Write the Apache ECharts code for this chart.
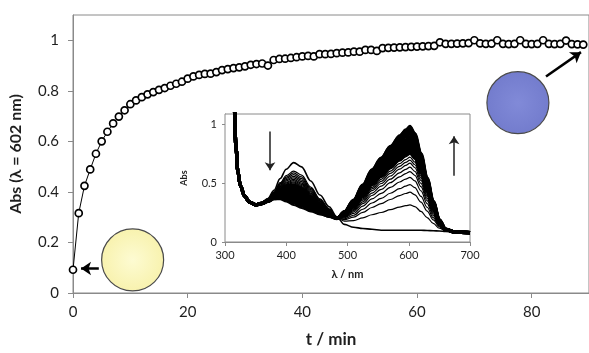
<!DOCTYPE html>
<html><head><meta charset="utf-8">
<script src="https://cdn.jsdelivr.net/npm/echarts@6/dist/echarts.min.js"></script>
<style>html,body{margin:0;padding:0;background:#fff}#c{width:589px;height:353px}</style>
</head><body><div id="c"></div>
<script>
// ---- main kinetics trace: Abs at 602 nm vs time ----
const times = [];
for (let i = 0; i < 90; i++) times.push(i);
const absorbance = [0.092,0.316,0.424,0.489,0.551,0.600,0.638,0.671,0.698,0.723,
  0.747,0.762,0.775,0.786,0.795,0.804,0.811,0.820,0.828,0.836,
  0.848,0.857,0.863,0.867,0.868,0.874,0.882,0.886,0.890,0.893,
  0.897,0.903,0.906,0.908,0.900,0.922,0.926,0.927,0.930,0.933,
  0.936,0.938,0.936,0.945,0.945,0.946,0.949,0.951,0.952,0.955,
  0.955,0.962,0.962,0.958,0.969,0.970,0.971,0.972,0.973,0.974,
  0.975,0.976,0.977,0.978,0.992,0.986,0.986,0.987,0.988,0.989,
  1.000,0.988,0.986,0.987,1.000,0.986,0.985,0.986,1.000,0.986,
  0.985,0.986,1.000,0.986,0.985,0.986,0.999,0.985,0.984,0.983];
const xTicksMain = [0, 20, 40, 60, 80];
const yTicksMain = [0, 0.2, 0.4, 0.6, 0.8, 1];

// ---- inset spectra ----
const lambdaEdge = [312,315,318,321,325,332,340];
const absEdge = [1.45,1.15,0.80,0.60,0.48,0.39,0.34];
const lambdaBand = [350,360,370,380,390,400,412,425,440,455,470,483,495,510,525,540,555,570,585,595,602,610,620,630,640,650,660];
const lambdaTail = [675,700];
const absTail = [0.085,0.08];
const spectra = [
[0.322,0.335,0.37,0.44,0.54,0.62,0.676,0.64,0.52,0.40,0.30,0.21,0.15,0.125,0.115,0.108,0.10,0.10,0.10,0.10,0.10,0.10,0.10,0.098,0.096,0.094,0.09],
[0.321,0.333,0.365,0.425,0.505,0.565,0.604,0.57,0.468,0.367,0.283,0.208,0.177,0.182,0.206,0.232,0.251,0.275,0.297,0.309,0.316,0.302,0.260,0.208,0.158,0.117,0.095],
[0.320,0.333,0.364,0.422,0.497,0.553,0.588,0.554,0.456,0.360,0.279,0.208,0.190,0.211,0.252,0.294,0.326,0.362,0.395,0.413,0.424,0.402,0.340,0.263,0.189,0.129,0.097],
[0.320,0.332,0.363,0.419,0.490,0.542,0.573,0.540,0.446,0.353,0.276,0.207,0.198,0.228,0.279,0.332,0.371,0.415,0.454,0.476,0.489,0.463,0.388,0.296,0.207,0.136,0.099],
[0.320,0.332,0.362,0.416,0.483,0.531,0.559,0.526,0.436,0.346,0.272,0.207,0.206,0.244,0.305,0.368,0.414,0.465,0.511,0.536,0.551,0.521,0.435,0.327,0.225,0.143,0.100],
[0.319,0.331,0.361,0.413,0.477,0.521,0.546,0.514,0.426,0.341,0.269,0.206,0.212,0.257,0.326,0.396,0.448,0.505,0.555,0.583,0.600,0.567,0.471,0.352,0.239,0.148,0.101],
[0.319,0.331,0.360,0.410,0.471,0.511,0.533,0.502,0.417,0.335,0.266,0.206,0.216,0.267,0.342,0.417,0.475,0.535,0.589,0.619,0.638,0.601,0.499,0.371,0.249,0.152,0.102],
[0.319,0.331,0.359,0.408,0.466,0.503,0.523,0.491,0.410,0.330,0.264,0.206,0.221,0.276,0.356,0.437,0.498,0.562,0.620,0.652,0.671,0.633,0.524,0.388,0.259,0.156,0.103],
[0.319,0.330,0.359,0.406,0.460,0.495,0.512,0.481,0.402,0.325,0.261,0.205,0.224,0.283,0.367,0.452,0.517,0.584,0.644,0.678,0.698,0.658,0.544,0.402,0.267,0.159,0.103],
[0.319,0.330,0.358,0.404,0.456,0.488,0.503,0.472,0.395,0.321,0.259,0.205,0.227,0.290,0.378,0.466,0.534,0.604,0.667,0.702,0.723,0.681,0.562,0.414,0.274,0.161,0.104],
[0.318,0.330,0.357,0.402,0.452,0.481,0.494,0.463,0.389,0.317,0.257,0.205,0.230,0.296,0.388,0.480,0.551,0.623,0.689,0.725,0.747,0.703,0.580,0.427,0.281,0.164,0.105],
[0.318,0.330,0.357,0.400,0.447,0.474,0.485,0.455,0.382,0.313,0.255,0.205,0.232,0.300,0.394,0.489,0.561,0.636,0.703,0.740,0.762,0.718,0.591,0.434,0.285,0.165,0.105],
[0.318,0.330,0.356,0.399,0.444,0.469,0.477,0.448,0.377,0.309,0.253,0.205,0.233,0.303,0.399,0.496,0.570,0.646,0.714,0.752,0.775,0.729,0.600,0.441,0.289,0.167,0.105],
[0.318,0.329,0.355,0.396,0.438,0.459,0.465,0.435,0.368,0.304,0.250,0.204,0.236,0.309,0.408,0.508,0.584,0.662,0.733,0.772,0.795,0.748,0.616,0.451,0.294,0.169,0.106],
[0.318,0.329,0.355,0.394,0.432,0.451,0.454,0.425,0.360,0.299,0.248,0.204,0.238,0.313,0.415,0.517,0.595,0.675,0.747,0.787,0.811,0.763,0.627,0.459,0.299,0.171,0.106],
[0.317,0.329,0.354,0.392,0.427,0.443,0.443,0.414,0.352,0.294,0.245,0.204,0.240,0.317,0.422,0.527,0.607,0.689,0.763,0.803,0.828,0.779,0.640,0.468,0.304,0.173,0.106],
[0.317,0.328,0.353,0.390,0.423,0.436,0.434,0.406,0.346,0.289,0.243,0.203,0.242,0.322,0.430,0.538,0.621,0.705,0.780,0.822,0.848,0.797,0.654,0.478,0.309,0.175,0.107],
[0.317,0.328,0.353,0.388,0.418,0.428,0.423,0.395,0.338,0.285,0.241,0.203,0.245,0.328,0.438,0.549,0.634,0.721,0.798,0.841,0.867,0.815,0.669,0.488,0.315,0.177,0.107],
[0.317,0.328,0.352,0.385,0.412,0.419,0.413,0.385,0.330,0.280,0.238,0.203,0.247,0.332,0.445,0.558,0.645,0.733,0.812,0.856,0.882,0.830,0.680,0.495,0.319,0.178,0.108],
[0.317,0.327,0.351,0.382,0.405,0.408,0.398,0.371,0.320,0.273,0.235,0.202,0.249,0.336,0.451,0.567,0.656,0.745,0.826,0.871,0.897,0.844,0.691,0.503,0.324,0.180,0.108],
[0.316,0.327,0.350,0.379,0.398,0.397,0.384,0.357,0.309,0.266,0.231,0.202,0.252,0.342,0.462,0.581,0.673,0.765,0.848,0.895,0.922,0.867,0.710,0.516,0.331,0.183,0.108],
[0.316,0.327,0.349,0.377,0.392,0.388,0.371,0.344,0.300,0.261,0.228,0.202,0.253,0.346,0.467,0.589,0.682,0.776,0.861,0.908,0.936,0.879,0.720,0.522,0.335,0.184,0.109],
[0.316,0.326,0.348,0.374,0.386,0.378,0.358,0.332,0.291,0.255,0.225,0.201,0.255,0.349,0.473,0.596,0.692,0.787,0.873,0.920,0.949,0.892,0.730,0.529,0.338,0.186,0.109],
[0.316,0.326,0.347,0.371,0.380,0.368,0.346,0.320,0.282,0.249,0.222,0.201,0.256,0.352,0.477,0.603,0.699,0.796,0.883,0.931,0.960,0.902,0.738,0.535,0.341,0.187,0.109],
[0.315,0.326,0.346,0.369,0.374,0.359,0.333,0.308,0.273,0.243,0.219,0.200,0.258,0.357,0.484,0.612,0.711,0.809,0.898,0.947,0.977,0.918,0.750,0.543,0.346,0.189,0.110],
[0.315,0.325,0.345,0.365,0.365,0.345,0.315,0.290,0.260,0.235,0.215,0.200,0.26,0.36,0.49,0.62,0.72,0.82,0.91,0.96,0.99,0.93,0.76,0.55,0.35,0.19,0.11]
];
const xTicksInset = [300, 400, 500, 600, 700];
const yTicksInset = [0, 0.5, 1];

const FONT = 'Lato, "Open Sans", sans-serif';
const AX = '#8a8a8a';
const TXT = '#1e1e1e';

const chart = echarts.init(document.getElementById('c'), null, {renderer: 'canvas'});

function specData(row) {
  const pts = [];
  lambdaEdge.forEach((l, i) => pts.push([l, absEdge[i]]));
  lambdaBand.forEach((l, i) => pts.push([l, row[i]]));
  lambdaTail.forEach((l, i) => pts.push([l, absTail[i]]));
  return pts;
}

const series = [];
series.push({
  type: 'line', xAxisIndex: 0, yAxisIndex: 0,
  data: times.map((t, i) => [t, absorbance[i]]),
  symbol: 'circle', symbolSize: 7, showAllSymbol: true,
  lineStyle: {color: '#000', width: 1},
  itemStyle: {color: '#fff', borderColor: '#000', borderWidth: 1.7},
  z: 5, animation: false, silent: true,
  markPoint: {
    silent: true, animation: false,
    label: {show: false},
    data: [
      {coord: [10.4, 0.131], symbol: 'circle', symbolSize: 62,
       itemStyle: {color: {type: 'radial', x: 0.5, y: 0.5, r: 0.5, colorStops: [{offset: 0, color: '#fdfbd2'}, {offset: 1, color: '#f8f2ae'}]}, borderColor: '#4a4a4a', borderWidth: 1.2}},
      {coord: [77.6, 0.753], symbol: 'circle', symbolSize: 62,
       itemStyle: {color: {type: 'radial', x: 0.5, y: 0.5, r: 0.5, colorStops: [{offset: 0, color: '#818ad8'}, {offset: 1, color: '#737ccd'}]}, borderColor: '#4a4a4a', borderWidth: 1.2}}
    ]
  },
  markLine: {
    silent: true, animation: false,
    symbol: ['none', 'arrow'], symbolSize: 10,
    label: {show: false},
    lineStyle: {color: '#000', width: 2.5, type: 'solid'},
    data: [
      [{coord: [4.5, 0.097]}, {coord: [1.4, 0.097]}],
      [{coord: [82.5, 0.857]}, {coord: [88.6, 0.953]}]
    ]
  }
});

spectra.forEach((row, k) => {
  const last = k === spectra.length - 1;
  const s = {
    type: 'line', xAxisIndex: 1, yAxisIndex: 1,
    data: specData(row),
    symbol: 'none', smooth: 0.35, smoothMonotone: 'x',
    lineStyle: {color: '#000', width: k === 0 ? 1.6 : (k < 11 ? 1.2 : (last ? 2 : 3.3))},
    animation: false, silent: true, z: 3
  };
  if (k === 0) {
    s.markLine = {
      silent: true, animation: false,
      symbol: ['none', 'arrow'], symbolSize: 8,
      label: {show: false},
      lineStyle: {color: '#222', width: 1.5, type: 'solid'},
      data: [
        [{coord: [373.5, 0.94]}, {coord: [373.5, 0.61]}],
        [{coord: [674, 0.565]}, {coord: [674, 0.90]}]
      ]
    };
  }
  series.push(s);
});

chart.setOption({
  backgroundColor: '#fff',
  animation: false,
  textStyle: {fontFamily: FONT},
  grid: [
    {left: 73, top: 15, width: 520, height: 281, show: true, borderColor: AX, borderWidth: 1, backgroundColor: 'transparent'},
    {left: 225, top: 114, width: 245, height: 128, show: true, borderColor: AX, borderWidth: 1, backgroundColor: '#fff', z: 2}
  ],
  xAxis: [
    {type: 'value', gridIndex: 0, min: 0, max: 90, interval: 20,
     name: 't / min', nameLocation: 'middle', nameGap: 38,
     nameTextStyle: {fontFamily: FONT, fontWeight: 'bold', fontSize: 17, color: TXT},
     axisLine: {lineStyle: {color: AX, width: 1}},
     axisTick: {show: true, length: 5, lineStyle: {color: AX}},
     axisLabel: {fontFamily: FONT, fontSize: 15, color: TXT, margin: 12, showMaxLabel: false,
       formatter: v => xTicksMain.includes(v) ? String(v) : ''},
     splitLine: {show: false}},
    {type: 'value', gridIndex: 1, min: 300, max: 700, interval: 100,
     name: 'λ / nm', nameLocation: 'middle', nameGap: 27,
     nameTextStyle: {fontFamily: FONT, fontWeight: 'bold', fontSize: 11, color: TXT},
     axisLine: {lineStyle: {color: AX, width: 1}},
     axisTick: {show: true, length: 4, lineStyle: {color: AX}},
     axisLabel: {fontFamily: FONT, fontSize: 11, color: TXT, margin: 8,
       formatter: v => xTicksInset.includes(v) ? String(v) : ''},
     splitLine: {show: false}}
  ],
  yAxis: [
    {type: 'value', gridIndex: 0, min: 0, max: 1.1, interval: 0.2,
     name: 'Abs (λ = 602 nm)', nameLocation: 'middle', nameGap: 49,
     nameTextStyle: {fontFamily: FONT, fontWeight: 'bold', fontSize: 16, color: TXT},
     axisLine: {show: true, lineStyle: {color: AX, width: 1}},
     axisTick: {show: true, length: 5, lineStyle: {color: AX}},
     axisLabel: {fontFamily: FONT, fontSize: 15, color: TXT, margin: 14, showMaxLabel: false,
       formatter: v => { const m = yTicksMain.find(t => Math.abs(t - v) < 1e-6); return m === undefined ? '' : String(m); }},
     splitLine: {show: false}},
    {type: 'value', gridIndex: 1, min: 0, max: 1.09, interval: 0.5,
     name: 'Abs', nameLocation: 'middle', nameGap: 36,
     nameTextStyle: {fontFamily: FONT, fontWeight: 'bold', fontSize: 9, color: TXT},
     axisLine: {show: true, lineStyle: {color: AX, width: 1}},
     axisTick: {show: true, length: 3, lineStyle: {color: AX}},
     axisLabel: {fontFamily: FONT, fontSize: 11, color: TXT, margin: 8, showMaxLabel: false,
       formatter: v => { const m = yTicksInset.find(t => Math.abs(t - v) < 1e-6); return m === undefined ? '' : String(m); }},
     splitLine: {show: false}}
  ],
  series: series
});
</script>
</body></html>
